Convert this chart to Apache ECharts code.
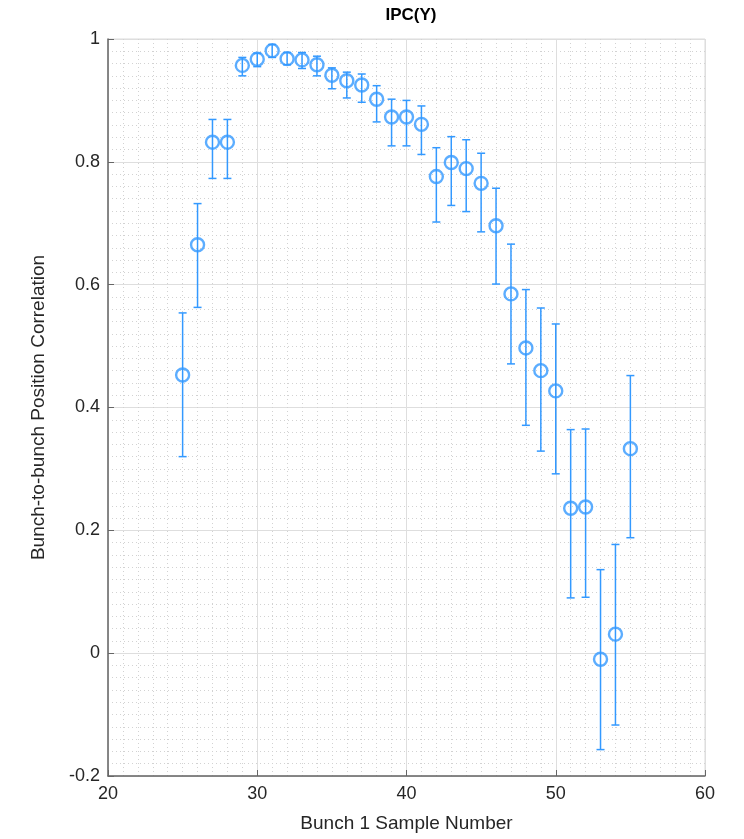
<!DOCTYPE html>
<html>
<head>
    <meta charset="utf-8">
    <title>IPC(Y)</title>
    <script type="text/javascript" src="https://cdn.jsdelivr.net/npm/echarts@6/dist/echarts.min.js"></script>
    <style>
        html, body { margin: 0; padding: 0; background: #fff; overflow: hidden; }
    </style>
</head>
<body>
    <div id="main" style="width: 744px;height:839px;"></div>
    <script type="text/javascript">
        // sample numbers and correlation with error bar ends
        var samples = [25, 26, 27, 28, 29, 30, 31, 32, 33, 34, 35, 36, 37, 38, 39, 40,
                       41, 42, 43, 44, 45, 46, 47, 48, 49, 50, 51, 52, 53, 54, 55];
        var corr = [0.453, 0.665, 0.832, 0.832, 0.957, 0.967, 0.981, 0.968, 0.966, 0.958, 0.941, 0.932,
                    0.925, 0.902, 0.873, 0.873, 0.861, 0.776, 0.799, 0.789, 0.765, 0.696, 0.585,
                    0.497, 0.460, 0.427, 0.236, 0.238, -0.010, 0.031, 0.333];
        var upper = [0.554, 0.732, 0.869, 0.869, 0.970, 0.977, 0.991, 0.978, 0.978, 0.972, 0.953, 0.946,
                     0.943, 0.924, 0.902, 0.900, 0.891, 0.823, 0.841, 0.836, 0.814, 0.757, 0.666,
                     0.592, 0.562, 0.536, 0.364, 0.365, 0.136, 0.177, 0.452];
        var lower = [0.320, 0.563, 0.773, 0.773, 0.940, 0.955, 0.970, 0.958, 0.952, 0.940, 0.919, 0.904,
                     0.897, 0.865, 0.826, 0.826, 0.812, 0.702, 0.729, 0.719, 0.686, 0.601, 0.471,
                     0.371, 0.329, 0.292, 0.090, 0.091, -0.157, -0.117, 0.188];

        var blue = '#3399ff';
        var txt = '#262626';
        var font = 'Liberation Sans';

        var errData = samples.map(function (s, i) { return [s, lower[i], upper[i]]; });
        var ptData = samples.map(function (s, i) { return [s, corr[i]]; });

        var myChart = echarts.init(document.getElementById('main'));
        var option = {
            animation: false,
            title: {
                text: 'IPC(Y)',
                left: 406, top: 2, textAlign: 'center',
                textStyle: { fontFamily: font, fontSize: 17, fontWeight: 'bold', color: '#000' }
            },
            grid: {
                left: 108, width: 597, top: 39, height: 737,
                show: true, borderColor: '#dadada', borderWidth: 1
            },
            xAxis: {
                type: 'value', min: 20, max: 60, interval: 10,
                name: 'Bunch 1 Sample Number', nameLocation: 'middle', nameGap: 38,
                nameTextStyle: { fontFamily: font, fontSize: 19, color: txt },
                axisLine: { show: true, onZero: false, lineStyle: { color: '#666', width: 1.5 } },
                axisTick: { show: true, inside: true, length: 6, lineStyle: { color: '#666' } },
                axisLabel: { fontFamily: font, fontSize: 18, color: txt, margin: 9 },
                splitLine: { show: true, lineStyle: { color: '#dedede', width: 1 } },
                minorTick: { show: false, splitNumber: 10 },
                minorSplitLine: { show: true, lineStyle: { color: '#d2d2d2', width: 1, type: [1, 3] } }
            },
            yAxis: {
                type: 'value', min: -0.2, max: 1, interval: 0.2,
                name: 'Bunch-to-bunch Position Correlation', nameLocation: 'middle', nameGap: 60,
                nameTextStyle: { fontFamily: font, fontSize: 19, color: txt },
                axisLine: { show: true, lineStyle: { color: '#666', width: 1.5 } },
                axisTick: { show: true, inside: true, length: 6, lineStyle: { color: '#666' } },
                axisLabel: {
                    fontFamily: font, fontSize: 18, color: txt, margin: 8,
                    formatter: function (v) { return String(Math.round(v * 10) / 10); }
                },
                splitLine: { show: true, lineStyle: { color: '#dedede', width: 1 } },
                minorTick: { show: false, splitNumber: 10 },
                minorSplitLine: { show: true, lineStyle: { color: '#d2d2d2', width: 1, type: [1, 3] } }
            },
            series: [{
                type: 'custom',
                data: errData,
                renderItem: function (params, api) {
                    var x = api.value(0);
                    var lo = api.coord([x, api.value(1)]);
                    var hi = api.coord([x, api.value(2)]);
                    var cap = 4;
                    var st = { stroke: blue, lineWidth: 1.5 };
                    return {
                        type: 'group',
                        children: [
                            { type: 'line', shape: { x1: lo[0], y1: lo[1], x2: hi[0], y2: hi[1] }, style: st },
                            { type: 'line', shape: { x1: lo[0] - cap, y1: lo[1], x2: lo[0] + cap, y2: lo[1] }, style: st },
                            { type: 'line', shape: { x1: hi[0] - cap, y1: hi[1], x2: hi[0] + cap, y2: hi[1] }, style: st }
                        ]
                    };
                },
                z: 2
            }, {
                type: 'scatter',
                data: ptData,
                symbol: 'circle',
                symbolSize: 13,
                itemStyle: { color: 'rgba(255,255,255,0)', borderColor: blue, borderWidth: 2.4 },
                z: 3
            }]
        };
        myChart.setOption(option);
    </script>
</body>
</html>
